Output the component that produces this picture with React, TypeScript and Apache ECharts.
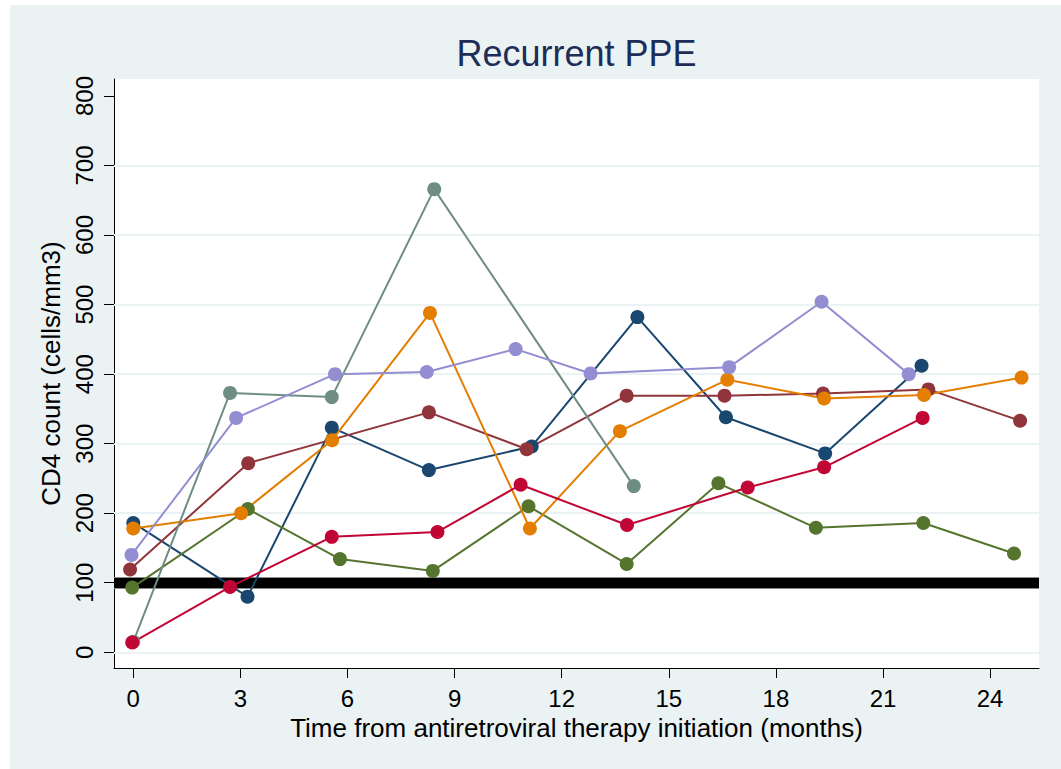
import React, { useEffect, useRef } from "react";
import * as echarts from "echarts";

const chartTitle = "Recurrent PPE";
const xAxisTitle = "Time from antiretroviral therapy initiation (months)";
const yAxisTitle = "CD4 count (cells/mm3)";

const xTicks = [0, 3, 6, 9, 12, 15, 18, 21, 24];
const yTicks = [0, 100, 200, 300, 400, 500, 600, 700, 800];
const gridValues = [0, 100, 200, 300, 400, 500, 600, 700];
const thresholdValue = 100;

const seriesNames = ["Patient 1", "Patient 2", "Patient 3", "Patient 4", "Patient 5", "Patient 6", "Patient 7"];
const seriesColors = ["#1A476F", "#90353B", "#55752F", "#E37E00", "#6E8E84", "#C10534", "#938DD2"];

const navyMonths = [0, 3.2, 5.56, 8.28, 11.16, 14.12, 16.6, 19.38, 22.08];
const navyCd4 = [186, 80, 323, 262, 296, 482, 338, 286, 412];

const maroonMonths = [-0.09, 3.22, 8.28, 11.02, 13.82, 16.56, 19.32, 22.27, 24.84];
const maroonCd4 = [119, 272, 345, 292, 369, 369, 372, 378, 333];

const greenMonths = [-0.03, 3.21, 5.79, 8.39, 11.07, 13.82, 16.39, 19.12, 22.13, 24.67];
const greenCd4 = [93, 206, 134, 117, 210, 127, 243, 179, 186, 142];

const orangeMonths = [0, 3.02, 5.57, 8.31, 11.11, 13.63, 16.64, 19.35, 22.15, 24.88];
const orangeCd4 = [178, 200, 305, 488, 178, 318, 392, 365, 370, 395];

const tealMonths = [0, 2.71, 5.56, 8.43, 14.02];
const tealCd4 = [15, 373, 367, 666, 239];

const cranberryMonths = [-0.03, 2.71, 5.56, 8.52, 10.85, 13.83, 17.21, 19.35, 22.11];
const cranberryCd4 = [14, 94, 166, 173, 241, 183, 237, 266, 337];

const lavenderMonths = [-0.05, 2.88, 5.65, 8.22, 10.71, 12.81, 16.69, 19.28, 21.72];
const lavenderCd4 = [140, 337, 400, 403, 436, 401, 410, 504, 400];

const allMonths = [navyMonths, maroonMonths, greenMonths, orangeMonths, tealMonths, cranberryMonths, lavenderMonths];
const allCd4 = [navyCd4, maroonCd4, greenCd4, orangeCd4, tealCd4, cranberryCd4, lavenderCd4];

const FONT = "'Liberation Sans', Arial, Helvetica, sans-serif";
const BG = "#EAF2F3";

export default function App() {
  const ref = useRef<HTMLDivElement>(null);

  useEffect(() => {
    if (!ref.current) return;
    const chart = echarts.init(ref.current, undefined, { renderer: "svg" });

    const dataSeries = allMonths.map((months, i) => ({
      name: seriesNames[i],
      type: "line",
      data: months.map((m, j) => [m, allCd4[i][j]]),
      symbol: "circle",
      symbolSize: 14,
      color: seriesColors[i],
      lineStyle: { width: 2, color: seriesColors[i] },
      itemStyle: { color: seriesColors[i], borderWidth: 0 },
      emphasis: { disabled: true },
      silent: true,
      z: 3,
    }));

    const refSeries = {
      name: "reference",
      type: "line",
      data: [],
      silent: true,
      z: 1,
      markLine: {
        z: 1,
        silent: true,
        symbol: "none",
        label: { show: false },
        animation: false,
        data: [
          ...gridValues.map((v) => ({ yAxis: v, lineStyle: { color: BG, width: 2, type: "solid" } })),
          { yAxis: thresholdValue, lineStyle: { color: "#8a8a8a", width: 12, type: "solid" } },
          { yAxis: thresholdValue, lineStyle: { color: "#000000", width: 10, type: "solid" } },
        ],
      },
    };

    chart.setOption({
      animation: false,
      backgroundColor: BG,
      textStyle: { fontFamily: FONT },
      grid: {
        left: 104,
        top: 74,
        width: 925,
        height: 589,
        show: true,
        backgroundColor: "#ffffff",
        borderWidth: 0,
        containLabel: false,
      },
      graphic: [
        {
          type: "text",
          x: 566.5,
          y: 48,
          silent: true,
          style: {
            text: chartTitle,
            font: `36px ${FONT}`,
            fill: "#1E2D58",
            align: "center",
            verticalAlign: "middle",
          },
        },
      ],
      xAxis: {
        type: "value",
        min: -0.54,
        max: 25.37,
        position: "bottom",
        axisLine: { show: true, onZero: false, lineStyle: { color: "#000", width: 1 } },
        axisTick: { show: true, customValues: xTicks, length: 10, lineStyle: { color: "#000", width: 1 } },
        axisLabel: { customValues: xTicks, fontSize: 24, color: "#000", margin: 18, fontFamily: FONT },
        splitLine: { show: false },
        name: xAxisTitle,
        nameLocation: "middle",
        nameGap: 44,
        nameTextStyle: { fontSize: 26, color: "#000", fontFamily: FONT },
      },
      yAxis: {
        type: "value",
        min: -22.6,
        max: 824.4,
        position: "left",
        axisLine: { show: true, onZero: false, lineStyle: { color: "#000", width: 1 } },
        axisTick: { show: true, customValues: yTicks, length: 10, lineStyle: { color: "#000", width: 1 } },
        axisLabel: { customValues: yTicks, fontSize: 24, color: "#000", margin: 18, rotate: 90, fontFamily: FONT },
        splitLine: { show: false },
        name: yAxisTitle,
        nameLocation: "middle",
        nameRotate: 90,
        nameGap: 46,
        nameTextStyle: { fontSize: 26, color: "#000", fontFamily: FONT },
      },
      series: [refSeries, ...dataSeries],
    });

    return () => chart.dispose();
  }, []);

  return (
    <div
      ref={ref}
      style={{ position: "absolute", left: 10, top: 5, width: 1051, height: 764 }}
    />
  );
}
